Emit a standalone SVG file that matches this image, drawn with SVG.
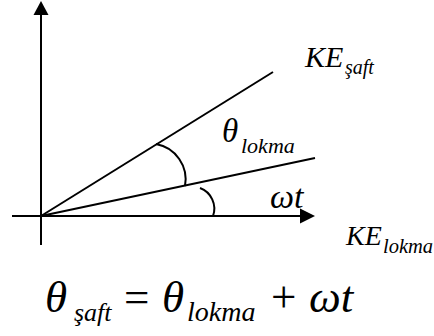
<svg xmlns="http://www.w3.org/2000/svg" width="434" height="336" viewBox="0 0 434 336">
<style>
text{font-family:'Liberation Serif','Times New Roman',serif !important;fill:#000}
.i{font-style:italic}
.ln{stroke:#000;stroke-width:2;fill:none}
</style>
<rect width="434" height="336" fill="#fff"/>
<g id="connectors">
<line class="ln" x1="41" y1="14" x2="41" y2="245"/>
<polygon points="41,1 33.5,15 48.5,15" fill="#000"/>
<line class="ln" x1="12" y1="216" x2="302" y2="216"/>
<polygon points="315,216 300,208.5 300,223.5" fill="#000"/>
<line class="ln" x1="41" y1="216" x2="273" y2="72"/>
<line class="ln" x1="41" y1="216" x2="315" y2="158"/>
<path class="ln" d="M156,144 A36,36 0 0 1 185,186"/>
<path class="ln" d="M200,188 A22,22 0 0 1 213,216"/>
</g>
<g id="ke-saft">
<text class="i" x="305" y="67" font-size="30">KE<tspan x="345" y="74" font-size="20">şaft</tspan></text>
</g>
<g id="theta-lokma">
<text class="i" x="222" y="142" font-size="33">θ<tspan x="241" y="153" font-size="22">lokma</tspan></text>
</g>
<g id="omega-t">
<text class="i" x="270" y="208" font-size="34">ωt</text>
</g>
<g id="ke-lokma">
<text class="i" x="346" y="245" font-size="28">KE<tspan x="383" y="253" font-size="20.5">lokma</tspan></text>
</g>
<g id="equation">
<text x="45" y="312" font-size="45"><tspan class="i">θ</tspan><tspan class="i" x="74" y="321" font-size="26">şaft</tspan><tspan x="124" y="312">=</tspan><tspan class="i" x="162" y="312">θ</tspan><tspan class="i" x="187" y="321" font-size="28">lokma</tspan><tspan x="271" y="312">+</tspan><tspan class="i" x="309" y="312">ωt</tspan></text>
</g>
</svg>
